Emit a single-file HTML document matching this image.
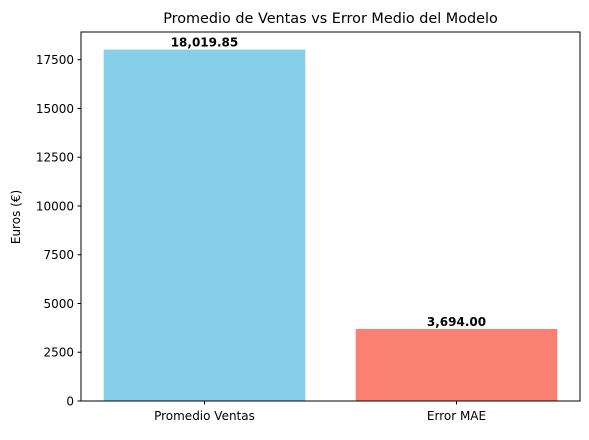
<!DOCTYPE html>
<html><head><meta charset="utf-8"><style>
body{margin:0;background:#fff;}
svg text{font-family:"DejaVu Sans","Liberation Sans",sans-serif;}
</style></head><body>
<svg id="chart" width="589" height="435" viewBox="0 0 589 435">
<rect width="589" height="435" fill="#fff"/>
<text x="330.5" y="23" font-size="14.4" text-anchor="middle">Promedio de Ventas vs Error Medio del Modelo</text>
<text transform="translate(20,217) rotate(-90)" font-size="12" text-anchor="middle">Euros (€)</text>
<g id="bars"></g>
<g id="yticks"></g>
<g id="xticks"></g>
<rect x="81" y="32" width="499" height="369" fill="none" stroke="#000" stroke-width="1"/>
</svg>
<script>
const categories=["Promedio Ventas","Error MAE"];
const values=[18019.85,3694.00];
const valueLabels=["18,019.85","3,694.00"];
const colors=["#87ceeb","#fa8072"];
const yTicks=[0,2500,5000,7500,10000,12500,15000,17500];
const L=81,R=580,T=32,B=401;
const ymax=Math.max(...values)*1.05;
const y=v=>B-(v/ymax)*(B-T);
const xmin=-0.49,xmax=1.49;
const x=v=>L+(v-xmin)/(xmax-xmin)*(R-L);
const NS="http://www.w3.org/2000/svg";
const mk=(t,a,p)=>{const e=document.createElementNS(NS,t);for(const k in a)e.setAttribute(k,a[k]);p.appendChild(e);return e;};
const gb=document.getElementById('bars'),gy=document.getElementById('yticks'),gx=document.getElementById('xticks');
categories.forEach((c,i)=>{
 const r=mk('rect',{x:x(i-0.4),y:y(values[i]),width:x(i+0.4)-x(i-0.4),height:B-y(values[i]),fill:colors[i]},gb);
 
 
 const t=mk('text',{x:x(i),y:y(values[i])-3,'font-size':12,'font-weight':'bold','text-anchor':'middle'},gb);
 t.textContent=valueLabels[i];
 
 
 const tk=mk('line',{x1:x(i),x2:x(i),y1:B,y2:B+3.5,stroke:'#000'},gx);
 
 
 const xl=mk('text',{x:x(i),y:B+19,'font-size':12,'text-anchor':'middle'},gx);
 xl.textContent=c;
 
 
});
yTicks.forEach((v,i)=>{
 const tk=mk('line',{x1:L-3.5,x2:L,y1:y(v),y2:y(v),stroke:'#000'},gy);
 
 
 const t=mk('text',{x:L-7,y:y(v)+4.5,'font-size':12,'text-anchor':'end'},gy);
 t.textContent=String(v);
 
 
});
</script>
</body></html>
